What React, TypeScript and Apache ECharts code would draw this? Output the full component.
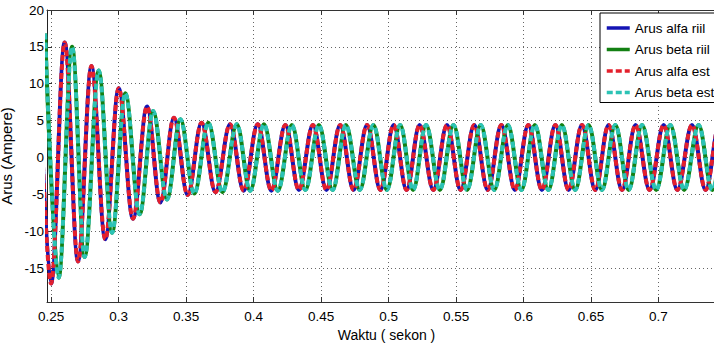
import React, { useEffect, useRef } from "react";
import * as echarts from "echarts";

// Times (s) of the successive peaks/troughs of the alpha current
const alfaTimes = [
  0.2399, 0.25, 0.2601, 0.27, 0.2799, 0.2902, 0.3001, 0.3107, 0.3211, 0.331,
  0.341, 0.3512, 0.3615, 0.3718, 0.3826, 0.3927, 0.4031, 0.4132, 0.4236, 0.4336,
  0.444, 0.454, 0.4642, 0.4741, 0.4841, 0.494, 0.5038, 0.5134, 0.523, 0.5332,
  0.5433, 0.5534, 0.5635, 0.5735, 0.5836, 0.5936, 0.6036, 0.6136, 0.6236, 0.6334,
  0.6433, 0.6532, 0.663, 0.673, 0.683, 0.6934, 0.7038, 0.714, 0.7248, 0.7349,
  0.745, 0.755,
];
// Values (A) at those peaks/troughs
const alfaValues = [
  18.5, -17.1, 15.6, -14.1, 12.4, -11.1, 9.4, -8.3, 6.9, -6.1,
  5.4, -5.1, 4.7, -4.7, 4.5, -4.5, 4.5, -4.5, 4.4, -4.4,
  4.4, -4.4, 4.4, -4.4, 4.4, -4.4, 4.4, -4.4, 4.4, -4.4,
  4.4, -4.4, 4.4, -4.4, 4.4, -4.4, 4.4, -4.4, 4.4, -4.4,
  4.4, -4.4, 4.4, -4.4, 4.4, -4.4, 4.4, -4.4, 4.4, -4.4,
  4.4, -4.4,
];
// Times (s) of the successive peaks/troughs of the beta current
const betaTimes = [
  0.2456, 0.2556, 0.2656, 0.2749, 0.2853, 0.2952, 0.305, 0.3156, 0.3256, 0.3359,
  0.3458, 0.3561, 0.3665, 0.377, 0.3876, 0.3975, 0.4077, 0.418, 0.4284, 0.4384,
  0.4484, 0.4586, 0.4684, 0.4787, 0.4888, 0.4988, 0.5086, 0.5182, 0.5278, 0.538,
  0.5481, 0.5582, 0.5683, 0.5783, 0.5884, 0.5984, 0.6084, 0.6184, 0.6284, 0.6383,
  0.6482, 0.6581, 0.668, 0.6779, 0.6878, 0.6983, 0.7087, 0.719, 0.7297, 0.7398,
  0.7498, 0.7598,
];
const betaValues = [
  16.8, -16.3, 15.0, -13.5, 11.8, -10.2, 8.7, -7.7, 6.3, -5.7,
  5.2, -4.9, 4.7, -4.7, 4.5, -4.5, 4.5, -4.5, 4.4, -4.4,
  4.4, -4.4, 4.4, -4.4, 4.4, -4.4, 4.4, -4.4, 4.4, -4.4,
  4.4, -4.4, 4.4, -4.4, 4.4, -4.4, 4.4, -4.4, 4.4, -4.4,
  4.4, -4.4, 4.4, -4.4, 4.4, -4.4, 4.4, -4.4, 4.4, -4.4,
  4.4, -4.4,
];

const xTicks = [0.25, 0.3, 0.35, 0.4, 0.45, 0.5, 0.55, 0.6, 0.65, 0.7];
const yTicks = [-15, -10, -5, 0, 5, 10, 15, 20];
const seriesNames = ["Arus alfa riil", "Arus beta riil", "Arus alfa est", "Arus beta est"];
const seriesColors = ["#1414b4", "#138013", "#e4202c", "#2cc3b5"];

const SANS = "'Liberation Sans', Arial, sans-serif";

export default function App() {
  const ref = useRef<HTMLDivElement>(null);
  useEffect(() => {
    const chart = echarts.init(ref.current!, null, { renderer: "svg" });
    const pair = (ts: number[], vs: number[]) => ts.map((t, i) => [t, vs[i]]);
    const alfa = pair(alfaTimes, alfaValues);
    const beta = pair(betaTimes, betaValues);
    const mk = (i: number, data: number[][], dashed: boolean) => ({
      name: seriesNames[i],
      type: "line",
      data,
      symbol: "none",
      showSymbol: false,
      smooth: 0.36,
      smoothMonotone: "x",
      clip: true,
      lineStyle: { color: seriesColors[i], width: 4, type: dashed ? [6, 3] : "solid", cap: "butt" },
      itemStyle: { color: seriesColors[i] },
    });
    const gridLine = { show: true, lineStyle: { color: "#666", width: 1, type: [1, 3] } };
    chart.setOption({
      animation: false,
      backgroundColor: "#fff",
      textStyle: { fontFamily: SANS },
      grid: { left: 47, right: -12, top: 10, bottom: 42, containLabel: false, outerBoundsMode: "none" },
      legend: {
        orient: "vertical",
        left: 600,
        top: 13,
        itemWidth: 23,
        itemHeight: 14,
        itemGap: 7.5,
        padding: [8, 30, 3, 5],
        backgroundColor: "#fff",
        borderColor: "#000",
        borderWidth: 1,
        borderRadius: 0,
        data: seriesNames,
        itemStyle: { opacity: 0 },
        lineStyle: { width: 3.5 },
        textStyle: { fontSize: 13.5, lineHeight: 14, fontFamily: SANS, color: "#000" },
      },
      xAxis: [
        {
          type: "value",
          min: 0.247,
          max: 0.75,
          name: "Waktu ( sekon )",
          nameLocation: "middle",
          nameGap: 24,
          nameTextStyle: { fontSize: 14, fontFamily: SANS, color: "#000" },
          axisLine: { show: true, onZero: false, lineStyle: { color: "#333", width: 1 } },
          axisTick: { show: true, inside: true, length: 5, customValues: xTicks, lineStyle: { color: "#333" } },
          axisLabel: {
            customValues: xTicks,
            margin: 7,
            fontSize: 13.5,
            fontFamily: SANS,
            color: "#000",
            formatter: (v: number) => String(+v.toFixed(2)),
          },
          splitLine: gridLine,
        },
        {
          type: "value",
          position: "top",
          min: 0.247,
          max: 0.75,
          axisLine: { show: true, onZero: false, lineStyle: { color: "#333", width: 1 } },
          axisTick: { show: true, inside: true, length: 5, customValues: xTicks, lineStyle: { color: "#333" } },
          axisLabel: { show: false },
          splitLine: { show: false },
        },
      ],
      yAxis: {
        type: "value",
        min: -19.6,
        max: 20,
        name: "Arus (Ampere)",
        nameLocation: "middle",
        nameGap: 22,
        nameRotate: 90,
        nameTextStyle: { fontSize: 15, fontFamily: SANS, color: "#000" },
        axisLine: { show: true, onZero: false, lineStyle: { color: "#222", width: 1 } },
        axisTick: { show: true, inside: true, length: 5, customValues: yTicks, lineStyle: { color: "#333" } },
        axisLabel: { customValues: yTicks, margin: 3, fontSize: 13.5, fontFamily: SANS, color: "#000" },
        splitLine: gridLine,
      },
      series: [
        mk(0, alfa, false),
        mk(1, beta, false),
        mk(2, alfa, true),
        mk(3, beta, true),
      ],
    });
    return () => chart.dispose();
  }, []);
  return <div ref={ref} style={{ position: "fixed", left: 0, top: 0, width: 714, height: 344 }} />;
}
